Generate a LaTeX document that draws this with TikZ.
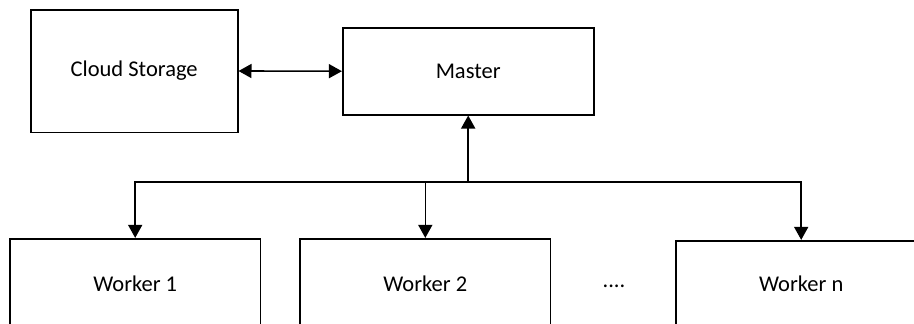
\documentclass[tikz,border=0pt]{standalone}
\usepackage{fontspec}
\setmainfont{Carlito}
\usetikzlibrary{arrows.meta}
\begin{document}
\begin{tikzpicture}[x=1pt,y=-1pt,
  box/.style={draw=black,line width=1.6pt,rectangle,inner sep=0pt,font=\fontsize{22.5}{27}\selectfont},
  conn/.style={line width=1.6pt,-{Triangle[width=14pt,length=13pt]}},
  biconn/.style={line width=1.6pt,{Triangle[width=14pt,length=13pt]}-{Triangle[width=14pt,length=13pt]}},
  lbl/.style={font=\fontsize{22.5}{27}\selectfont}]
\useasboundingbox (0,0) rectangle (914,324);
\clip (0,0) rectangle (914,324);
\node[box,minimum width=207pt,minimum height=122.6pt] (cs) at (134.2,71) {Cloud Storage};
\node[box,minimum width=251pt,minimum height=87pt] (m) at (468.2,71.2) {Master};
\node[box,minimum width=250.3pt,minimum height=90.6pt] (w1) at (135.2,284) {Worker 1};
\node[box,minimum width=250.7pt,minimum height=90.6pt] (w2) at (425.3,284) {Worker 2};
\node[box,minimum width=251pt,minimum height=86.6pt] (wn) at (801.2,284) {Worker n};
\node[lbl] (dots) at (614,286) {....};
\coordinate (j) at (468.2,181.7);
\draw[biconn] (cs.east) -- (m.west);
\draw[conn] (j) -- (m.south);
\draw[conn] (j) -| (w1.north);
\draw[conn] (j) -| (w2.north);
\draw[conn] (j) -| (wn.north);
\end{tikzpicture}
\end{document}
